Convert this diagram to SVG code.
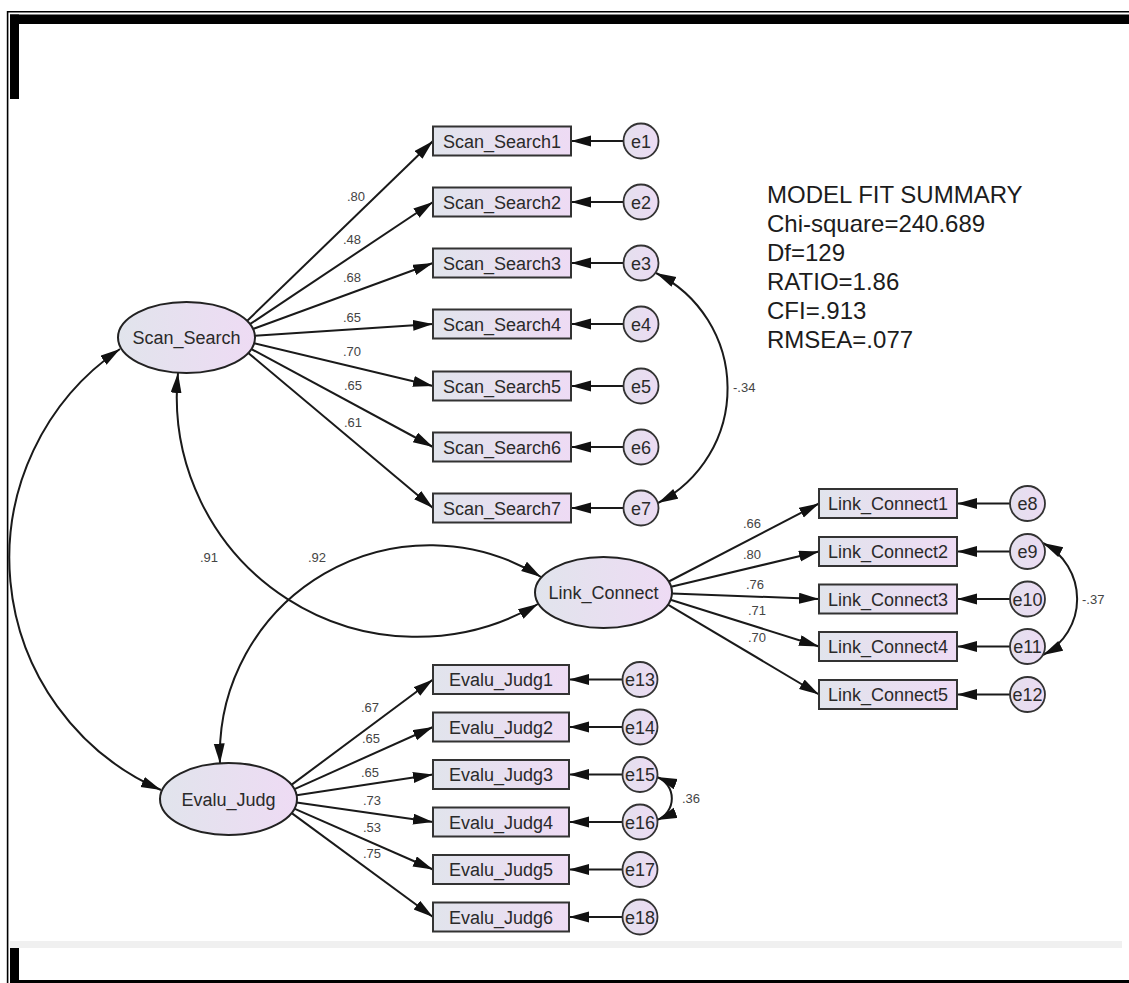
<svg xmlns="http://www.w3.org/2000/svg" width="1129" height="983" viewBox="0 0 1129 983">
  <style>
    .lat { fill: url(#shade); stroke: #222; stroke-width: 2; }
    .obs { fill: url(#shade); stroke: #333; stroke-width: 2; }
    .err { fill: url(#errshade); stroke: #333; stroke-width: 1.8; }
    .name { font-family: "Liberation Sans", Arial, sans-serif; font-size: 18px; fill: #2a2a2a; text-anchor: middle; }
    .wt { font-family: "Liberation Sans", Arial, sans-serif; font-size: 13px; fill: #444; text-anchor: middle; }
    .cov { font-family: "Liberation Sans", Arial, sans-serif; font-size: 13px; fill: #444; }
    .fit { font-family: "Liberation Sans", Arial, sans-serif; font-size: 24px; fill: #1c1c1c; }
    .path { fill: none; stroke: #1a1a1a; stroke-width: 2; marker-end: url(#head); }
    .both { fill: none; stroke: #1a1a1a; stroke-width: 2; marker-start: url(#head); marker-end: url(#head); }
  </style>
  <defs>
    <linearGradient id="shade" x1="0" y1="0" x2="1" y2="0">
      <stop offset="0" stop-color="#e1e4ec"/>
      <stop offset="1" stop-color="#eedbf4"/>
    </linearGradient>
    <linearGradient id="errshade" x1="0" y1="0" x2="1" y2="0">
      <stop offset="0" stop-color="#e4e0ee"/>
      <stop offset="1" stop-color="#ecdbf3"/>
    </linearGradient>
    <marker id="head" markerUnits="userSpaceOnUse" markerWidth="22" markerHeight="14" refX="20" refY="5.5" orient="auto-start-reverse">
      <path d="M0,0 L20,5.5 L0,11 z" fill="#111"/>
    </marker>
  </defs>

  <rect width="1129" height="983" fill="#fff"/>

  <!-- frame -->
  <g id="frame">
    <line x1="7" y1="11.8" x2="1129" y2="11.8" stroke="#000" stroke-width="1.6"/>
    <line x1="7.6" y1="11" x2="7.6" y2="983" stroke="#000" stroke-width="1.6"/>
    <rect x="10" y="14.5" width="1119" height="9.5" fill="#000"/>
    <rect x="10" y="14.5" width="9" height="84.5" fill="#000"/>
    <rect x="10" y="941" width="1112" height="7" fill="#f0f0f0"/>
    <rect x="10" y="948" width="9" height="35" fill="#000"/>
    <rect x="10" y="980" width="1119" height="3" fill="#000"/>
  </g>

  <!-- connectors -->
  <g id="connectors">
    <!-- Scan_Search loadings -->
    <line class="path" x1="247" y1="321" x2="433" y2="141"/>
    <line class="path" x1="249.9" y1="324.2" x2="433" y2="202"/>
    <line class="path" x1="252.9" y1="329" x2="433" y2="263"/>
    <line class="path" x1="254.9" y1="335.8" x2="433" y2="324"/>
    <line class="path" x1="254" y1="343.2" x2="433" y2="386"/>
    <line class="path" x1="251.3" y1="349" x2="433" y2="447"/>
    <line class="path" x1="248.3" y1="352.9" x2="433" y2="508"/>
    <!-- Link_Connect loadings -->
    <line class="path" x1="668.8" y1="581.5" x2="819" y2="503.5"/>
    <line class="path" x1="671.2" y1="586.8" x2="819" y2="551.5"/>
    <line class="path" x1="672" y1="593.4" x2="819" y2="599"/>
    <line class="path" x1="670.5" y1="599.7" x2="819" y2="646.5"/>
    <line class="path" x1="667.9" y1="604.6" x2="819" y2="694.5"/>
    <!-- Evalu_Judg loadings -->
    <line class="path" x1="291.4" y1="784.9" x2="433" y2="679.5"/>
    <line class="path" x1="294.5" y1="789.1" x2="433" y2="727"/>
    <line class="path" x1="296.6" y1="795.3" x2="433" y2="774.5"/>
    <line class="path" x1="296.6" y1="802.5" x2="433" y2="822"/>
    <line class="path" x1="294.3" y1="808.6" x2="433" y2="869.5"/>
    <line class="path" x1="291.4" y1="812.9" x2="433" y2="917"/>
    <!-- error terms -->
    <line class="path" x1="623.5" y1="141" x2="571" y2="141"/>
    <line class="path" x1="623.5" y1="202" x2="571" y2="202"/>
    <line class="path" x1="623.5" y1="263" x2="571" y2="263"/>
    <line class="path" x1="623.5" y1="324" x2="571" y2="324"/>
    <line class="path" x1="623.5" y1="386" x2="571" y2="386"/>
    <line class="path" x1="623.5" y1="447" x2="571" y2="447"/>
    <line class="path" x1="623.5" y1="508" x2="571" y2="508"/>
    <line class="path" x1="1010" y1="503.5" x2="957" y2="503.5"/>
    <line class="path" x1="1010" y1="551.5" x2="957" y2="551.5"/>
    <line class="path" x1="1010" y1="599" x2="957" y2="599"/>
    <line class="path" x1="1010" y1="646.5" x2="957" y2="646.5"/>
    <line class="path" x1="1010" y1="694.5" x2="957" y2="694.5"/>
    <line class="path" x1="622.5" y1="679.5" x2="569" y2="679.5"/>
    <line class="path" x1="622.5" y1="727" x2="569" y2="727"/>
    <line class="path" x1="622.5" y1="774.5" x2="569" y2="774.5"/>
    <line class="path" x1="622.5" y1="822" x2="569" y2="822"/>
    <line class="path" x1="622.5" y1="869.5" x2="569" y2="869.5"/>
    <line class="path" x1="622.5" y1="917" x2="569" y2="917"/>
    <!-- factor covariances -->
    <path class="both" d="M120,349 A253,253 0 0 0 161,790"/>
    <path class="both" d="M178,373 A240,240 0 0 0 538,604"/>
    <path class="both" d="M541,577 A210,210 0 0 0 220,763.5"/>
    <!-- error covariances -->
    <path class="both" d="M656,273 A129,129 0 0 1 658,503"/>
    <path class="both" d="M1043,543 A63,63 0 0 1 1043,655"/>
    <path class="both" d="M657,777 A23,23 0 0 1 657,820"/>
  </g>

  <!-- weights -->
  <g id="weights">
    <text class="wt" x="356" y="201">.80</text>
    <text class="wt" x="352" y="244">.48</text>
    <text class="wt" x="352" y="282">.68</text>
    <text class="wt" x="352" y="322">.65</text>
    <text class="wt" x="352" y="356">.70</text>
    <text class="wt" x="353" y="390">.65</text>
    <text class="wt" x="353" y="427">.61</text>
    <text class="wt" x="752" y="528">.66</text>
    <text class="wt" x="752" y="559">.80</text>
    <text class="wt" x="755" y="589">.76</text>
    <text class="wt" x="757" y="615">.71</text>
    <text class="wt" x="757" y="642">.70</text>
    <text class="wt" x="370" y="712">.67</text>
    <text class="wt" x="371" y="743">.65</text>
    <text class="wt" x="370" y="777">.65</text>
    <text class="wt" x="372" y="805">.73</text>
    <text class="wt" x="372" y="832">.53</text>
    <text class="wt" x="372" y="858">.75</text>
    <text class="wt" x="209" y="562">.91</text>
    <text class="wt" x="317" y="562">.92</text>
    <text class="cov" x="733" y="392">-.34</text>
    <text class="cov" x="1082" y="604">-.37</text>
    <text class="cov" x="682" y="803">.36</text>
  </g>

  <!-- latent factors -->
  <g id="Scan_Search">
    <ellipse class="lat" cx="186.5" cy="337.5" rx="68.5" ry="35.5"/>
    <text class="name" x="186.5" y="344">Scan_Search</text>
  </g>
  <g id="Link_Connect">
    <ellipse class="lat" cx="603.5" cy="592.5" rx="68.5" ry="35.5"/>
    <text class="name" x="603.5" y="599">Link_Connect</text>
  </g>
  <g id="Evalu_Judg">
    <ellipse class="lat" cx="228.5" cy="799" rx="68.5" ry="36"/>
    <text class="name" x="228.5" y="805.5">Evalu_Judg</text>
  </g>

  <!-- Scan_Search indicators -->
  <g id="Scan_Search1"><rect class="obs" x="433" y="126.5" width="138" height="29"/><text class="name" x="502" y="147.5">Scan_Search1</text></g>
  <g id="Scan_Search2"><rect class="obs" x="433" y="187.5" width="138" height="29"/><text class="name" x="502" y="208.5">Scan_Search2</text></g>
  <g id="Scan_Search3"><rect class="obs" x="433" y="248.5" width="138" height="29"/><text class="name" x="502" y="269.5">Scan_Search3</text></g>
  <g id="Scan_Search4"><rect class="obs" x="433" y="309.5" width="138" height="29"/><text class="name" x="502" y="330.5">Scan_Search4</text></g>
  <g id="Scan_Search5"><rect class="obs" x="433" y="371.5" width="138" height="29"/><text class="name" x="502" y="392.5">Scan_Search5</text></g>
  <g id="Scan_Search6"><rect class="obs" x="433" y="432.5" width="138" height="29"/><text class="name" x="502" y="453.5">Scan_Search6</text></g>
  <g id="Scan_Search7"><rect class="obs" x="433" y="493.5" width="138" height="29"/><text class="name" x="502" y="514.5">Scan_Search7</text></g>

  <!-- Link_Connect indicators -->
  <g id="Link_Connect1"><rect class="obs" x="819" y="489" width="138" height="29"/><text class="name" x="888" y="510">Link_Connect1</text></g>
  <g id="Link_Connect2"><rect class="obs" x="819" y="537" width="138" height="29"/><text class="name" x="888" y="558">Link_Connect2</text></g>
  <g id="Link_Connect3"><rect class="obs" x="819" y="584.5" width="138" height="29"/><text class="name" x="888" y="605.5">Link_Connect3</text></g>
  <g id="Link_Connect4"><rect class="obs" x="819" y="632" width="138" height="29"/><text class="name" x="888" y="653">Link_Connect4</text></g>
  <g id="Link_Connect5"><rect class="obs" x="819" y="680" width="138" height="29"/><text class="name" x="888" y="701">Link_Connect5</text></g>

  <!-- Evalu_Judg indicators -->
  <g id="Evalu_Judg1"><rect class="obs" x="433" y="665" width="136" height="29"/><text class="name" x="501" y="686">Evalu_Judg1</text></g>
  <g id="Evalu_Judg2"><rect class="obs" x="433" y="712.5" width="136" height="29"/><text class="name" x="501" y="733.5">Evalu_Judg2</text></g>
  <g id="Evalu_Judg3"><rect class="obs" x="433" y="760" width="136" height="29"/><text class="name" x="501" y="781">Evalu_Judg3</text></g>
  <g id="Evalu_Judg4"><rect class="obs" x="433" y="807.5" width="136" height="29"/><text class="name" x="501" y="828.5">Evalu_Judg4</text></g>
  <g id="Evalu_Judg5"><rect class="obs" x="433" y="855" width="136" height="29"/><text class="name" x="501" y="876">Evalu_Judg5</text></g>
  <g id="Evalu_Judg6"><rect class="obs" x="433" y="902.5" width="136" height="29"/><text class="name" x="501" y="923.5">Evalu_Judg6</text></g>

  <!-- error terms -->
  <g id="e1"><circle class="err" cx="641" cy="141" r="17.5"/><text class="name" x="641" y="147.5">e1</text></g>
  <g id="e2"><circle class="err" cx="641" cy="202" r="17.5"/><text class="name" x="641" y="208.5">e2</text></g>
  <g id="e3"><circle class="err" cx="641" cy="263" r="17.5"/><text class="name" x="641" y="269.5">e3</text></g>
  <g id="e4"><circle class="err" cx="641" cy="324" r="17.5"/><text class="name" x="641" y="330.5">e4</text></g>
  <g id="e5"><circle class="err" cx="641" cy="386" r="17.5"/><text class="name" x="641" y="392.5">e5</text></g>
  <g id="e6"><circle class="err" cx="641" cy="447" r="17.5"/><text class="name" x="641" y="453.5">e6</text></g>
  <g id="e7"><circle class="err" cx="641" cy="508" r="17.5"/><text class="name" x="641" y="514.5">e7</text></g>
  <g id="e8"><circle class="err" cx="1027.5" cy="503.5" r="17.5"/><text class="name" x="1027.5" y="510">e8</text></g>
  <g id="e9"><circle class="err" cx="1027.5" cy="551.5" r="17.5"/><text class="name" x="1027.5" y="558">e9</text></g>
  <g id="e10"><circle class="err" cx="1027.5" cy="599" r="17.5"/><text class="name" x="1027.5" y="605.5">e10</text></g>
  <g id="e11"><circle class="err" cx="1027.5" cy="646.5" r="17.5"/><text class="name" x="1027.5" y="653">e11</text></g>
  <g id="e12"><circle class="err" cx="1027.5" cy="694.5" r="17.5"/><text class="name" x="1027.5" y="701">e12</text></g>
  <g id="e13"><circle class="err" cx="640" cy="679.5" r="17.5"/><text class="name" x="640" y="686">e13</text></g>
  <g id="e14"><circle class="err" cx="640" cy="727" r="17.5"/><text class="name" x="640" y="733.5">e14</text></g>
  <g id="e15"><circle class="err" cx="640" cy="774.5" r="17.5"/><text class="name" x="640" y="781">e15</text></g>
  <g id="e16"><circle class="err" cx="640" cy="822" r="17.5"/><text class="name" x="640" y="828.5">e16</text></g>
  <g id="e17"><circle class="err" cx="640" cy="869.5" r="17.5"/><text class="name" x="640" y="876">e17</text></g>
  <g id="e18"><circle class="err" cx="640" cy="917" r="17.5"/><text class="name" x="640" y="923.5">e18</text></g>

  <!-- fit statistics -->
  <g id="fit_summary">
    <text class="fit" x="767" y="203">MODEL FIT SUMMARY</text>
    <text class="fit" x="767" y="232">Chi-square=240.689</text>
    <text class="fit" x="767" y="261">Df=129</text>
    <text class="fit" x="767" y="290">RATIO=1.86</text>
    <text class="fit" x="767" y="319">CFI=.913</text>
    <text class="fit" x="767" y="348">RMSEA=.077</text>
  </g>
</svg>
